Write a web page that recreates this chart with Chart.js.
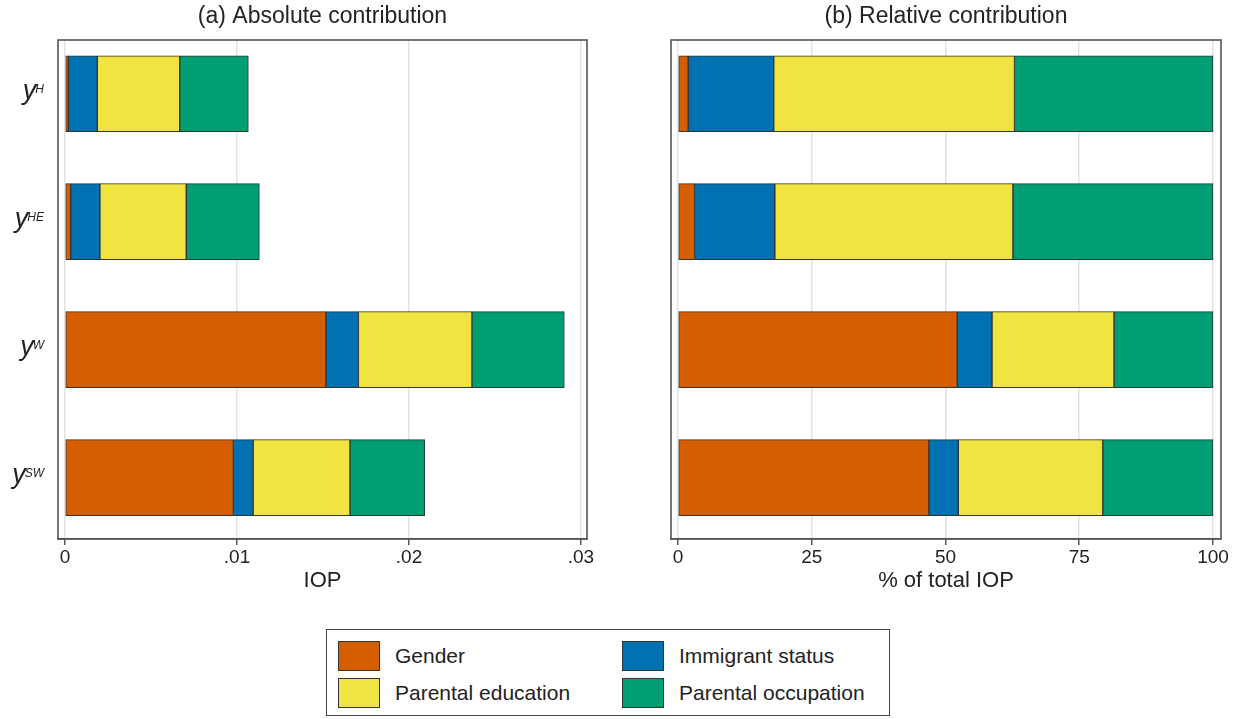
<!DOCTYPE html>
<html>
<head>
<meta charset="utf-8">
<script src="https://cdn.jsdelivr.net/npm/chart.js@4.4.1/dist/chart.umd.min.js"></script>
<style>
  body { margin: 0; background: #fff; font-family: "Liberation Sans", Arial, sans-serif; }
  #page { position: relative; width: 1244px; height: 719px; }
  .panel { position: absolute; top: 0; }
  #legend {
    position: absolute; left: 326px; top: 629px; width: 564px; height: 87px;
    border: 1.5px solid #444; box-sizing: border-box;
  }
  .item { position: absolute; height: 30px; display: flex; align-items: center; font-size: 21px; color: #222; }
  .swatch { width: 42px; height: 30px; border: 1px solid #333; box-sizing: border-box; margin-right: 15px; }
</style>
</head>
<body>
<div id="page">
  <div class="panel" style="left:0"><canvas id="absChart" width="645" height="600"></canvas></div>
  <div class="panel" style="left:646px"><canvas id="relChart" width="598" height="600"></canvas></div>
  <div id="legend"></div>
</div>
<script>
// outcome rows, top to bottom (rendered as y^key)
const rowKeys = ["H", "HE", "W", "SW"];
const factors = ["Gender", "Immigrant status", "Parental education", "Parental occupation"];
const factorColors = ["#D55E00", "#0072B2", "#F0E442", "#009E73"];

// (a) absolute contribution to IOP
const absGender     = [0.00019, 0.00033, 0.01517, 0.00979];
const absImmigrant  = [0.00169, 0.00170, 0.00189, 0.00115];
const absEducation  = [0.00479, 0.00502, 0.00660, 0.00563];
const absOccupation = [0.00399, 0.00425, 0.00537, 0.00435];

// (b) share of total IOP, percent
const relGender     = [1.9, 3.1, 52.2, 46.9];
const relImmigrant  = [16.0, 15.0, 6.5, 5.5];
const relEducation  = [45.0, 44.5, 22.8, 27.0];
const relOccupation = [37.1, 37.4, 18.5, 20.6];

const absTicks = [0, 0.01, 0.02, 0.03];
const absTickLabels = ["0", ".01", ".02", ".03"];
const relTicks = [0, 25, 50, 75, 100];
const relTickLabels = ["0", "25", "50", "75", "100"];

const FONT = "'Liberation Sans', Arial, sans-serif";
const INK = "#222";
const FRAME = "#555";

function makeDatasets(seriesList) {
  return seriesList.map((vals, k) => ({
    label: factors[k],
    data: vals.map((v, i) => ({ x: v, y: i })),
    backgroundColor: factorColors[k],
    borderColor: "#333",
    borderWidth: 1,
    borderSkipped: false,
    barThickness: 76,
  }));
}

// box around the plot region
const framePlugin = {
  id: "frame",
  afterDraw(chart) {
    const { ctx, chartArea: a } = chart;
    ctx.save();
    ctx.strokeStyle = FRAME;
    ctx.lineWidth = 1.6;
    ctx.strokeRect(a.left, a.top, a.right - a.left, a.bottom - a.top);
    ctx.restore();
  },
};

// italic y with superscript row key
const rowLabelPlugin = {
  id: "rowLabels",
  afterDraw(chart) {
    const { ctx } = chart;
    const yScale = chart.scales.y;
    const right = 44;
    ctx.save();
    ctx.fillStyle = INK;
    ctx.textBaseline = "alphabetic";
    ctx.textAlign = "left";
    rowKeys.forEach((key, i) => {
      const cy = yScale.getPixelForValue(i);
      ctx.font = "italic 12px " + FONT;
      const supW = ctx.measureText(key).width;
      ctx.font = "italic 27px " + FONT;
      const yW = ctx.measureText("y").width;
      const x0 = right - supW - yW + 1;
      ctx.fillText("y", x0, cy + 5);
      ctx.font = "italic 12px " + FONT;
      ctx.fillText(key, x0 + yW - 1, cy - 0.5);
    });
    ctx.restore();
  },
};

function makeChart(id, opts) {
  return new Chart(document.getElementById(id), {
    type: "bar",
    data: { datasets: makeDatasets(opts.series) },
    options: {
      indexAxis: "y",
      responsive: false,
      devicePixelRatio: 1,
      animation: false,
      layout: { padding: opts.padding },
      plugins: {
        legend: { display: false },
        tooltip: { enabled: false },
        title: {
          display: true,
          text: opts.title,
          color: INK,
          font: { family: FONT, size: 23, weight: "normal" },
          padding: { top: 3, bottom: 9.4 },
        },
      },
      scales: {
        x: {
          type: "linear",
          stacked: true,
          min: opts.min,
          max: opts.max,
          afterBuildTicks: (scale) => { scale.ticks = opts.ticks.map((v) => ({ value: v })); },
          ticks: {
            includeBounds: false,
            color: INK,
            padding: 3,
            font: { family: FONT, size: 19, lineHeight: 1 },
            callback: (v) => opts.tickLabels[opts.ticks.indexOf(v)],
          },
          grid: { color: "#e2e2e2", lineWidth: 1.5, tickColor: FRAME, tickLength: 6, tickWidth: 1.5 },
          border: { display: true, color: FRAME, width: 1.6 },
          title: {
            display: true,
            text: opts.axisTitle,
            color: INK,
            font: { family: FONT, size: 22, lineHeight: 1 },
            padding: { top: 0, bottom: 0 },
          },
        },
        y: {
          type: "linear",
          stacked: true,
          reverse: true,
          offset: false,
          min: -0.42,
          max: 3.48,
          display: false,
        },
      },
    },
    plugins: opts.plugins,
  });
}

makeChart("absChart", {
  series: [absGender, absImmigrant, absEducation, absOccupation],
  title: "(a) Absolute contribution",
  axisTitle: "IOP",
  min: -0.000407,
  max: 0.03035,
  ticks: absTicks,
  tickLabels: absTickLabels,
  padding: { left: 58, right: 58, top: 0, bottom: 8 },
  plugins: [framePlugin, rowLabelPlugin],
});

makeChart("relChart", {
  series: [relGender, relImmigrant, relEducation, relOccupation],
  title: "(b) Relative contribution",
  axisTitle: "% of total IOP",
  min: -1.31,
  max: 101.5,
  ticks: relTicks,
  tickLabels: relTickLabels,
  padding: { left: 25, right: 23, top: 0, bottom: 8 },
  plugins: [framePlugin],
});

// legend in two columns: Gender / Immigrant, Parental education / Parental occupation
const legendEl = document.getElementById("legend");
const legendPos = [[11, 11], [295, 11], [11, 48], [295, 48]];
factors.forEach((name, k) => {
  const item = document.createElement("div");
  item.className = "item";
  item.style.left = legendPos[k][0] + "px";
  item.style.top = legendPos[k][1] + "px";
  const sw = document.createElement("div");
  sw.className = "swatch";
  sw.style.background = factorColors[k];
  item.appendChild(sw);
  item.appendChild(document.createTextNode(name));
  legendEl.appendChild(item);
});
</script>
</body>
</html>
